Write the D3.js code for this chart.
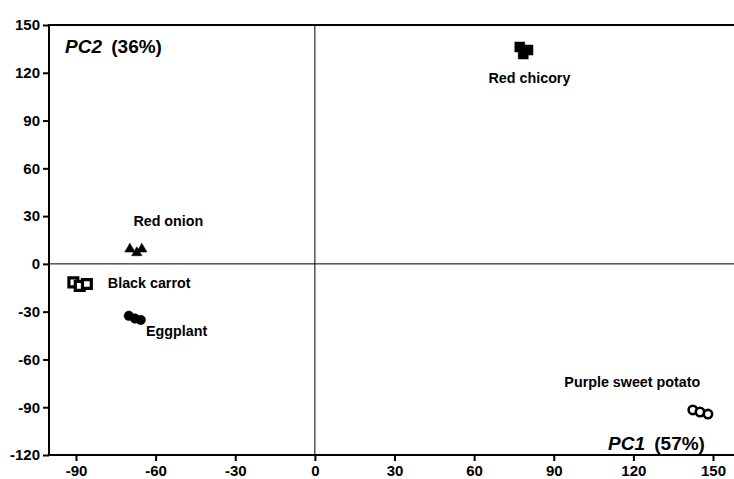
<!DOCTYPE html>
<html>
<head>
<meta charset="utf-8">
<script src="https://cdn.jsdelivr.net/npm/d3@7"></script>
<style>
  html, body { margin: 0; padding: 0; background: #fff; }
  svg { display: block; }
  text { font-family: "Liberation Sans", Arial, sans-serif; font-weight: bold; fill: #000; }
</style>
</head>
<body>
<svg id="chart" width="734" height="479"></svg>
<script>
// PCA score plot: three replicates per anthocyanin source
const xTicks = [-90, -60, -30, 0, 30, 60, 90, 120, 150];
const yTicks = [-120, -90, -60, -30, 0, 30, 60, 90, 120, 150];

const redChicoryPC1 = [77.2, 80.3, 78.5];
const redChicoryPC2 = [136.2, 134.3, 131.8];

const redOnionPC1 = [-69.7, -67.1, -65.2];
const redOnionPC2 = [9.3, 7.0, 9.3];

const blackCarrotPC1 = [-91.0, -88.6, -85.9];
const blackCarrotPC2 = [-11.6, -13.8, -12.6];

const eggplantPC1 = [-70.1, -67.8, -65.6];
const eggplantPC2 = [-32.6, -34.3, -35.2];

const sweetPotatoPC1 = [142.4, 145.1, 148.1];
const sweetPotatoPC2 = [-91.7, -93.0, -94.3];

const groups = [
  { name: "Red chicory", pc1: redChicoryPC1, pc2: redChicoryPC2, symbol: d3.symbolSquare, fill: "#000", size: 100,
    stroke: 0.5, label: [79, 113.5], dx: -36 },
  { name: "Red onion", pc1: redOnionPC1, pc2: redOnionPC2, symbol: d3.symbolTriangle, fill: "#000", size: 46,
    stroke: 0.5, label: [-68, 23.8], dx: -1 },
  { name: "Black carrot", pc1: blackCarrotPC1, pc2: blackCarrotPC2, symbol: d3.symbolSquare, fill: "#fff", size: 78,
    stroke: 3.2, label: [-78, -15], dx: 0 },
  { name: "Eggplant", pc1: eggplantPC1, pc2: eggplantPC2, symbol: d3.symbolCircle, fill: "#000", size: 72,
    stroke: 0.5, label: [-64, -45], dx: 1 },
  { name: "Purple sweet potato", pc1: sweetPotatoPC1, pc2: sweetPotatoPC2, symbol: d3.symbolCircle, fill: "#fff", size: 55,
    stroke: 2.6, label: [94, -77.5], dx: 0 }
];

const svg = d3.select("#chart");
const x = d3.scaleLinear().domain([-90, 150]).range([76, 713]);
const y = d3.scaleLinear().domain([-120, 150]).range([455, 25]);

const plotLeft = 49, plotRight = 734, plotTop = y(150), plotBottom = y(-120);

// crosshair through the origin
svg.append("line").attr("x1", x(0)).attr("x2", x(0)).attr("y1", plotTop).attr("y2", plotBottom)
  .attr("stroke", "#000").attr("stroke-width", 1);
svg.append("line").attr("x1", plotLeft).attr("x2", plotRight).attr("y1", y(0)).attr("y2", y(0))
  .attr("stroke", "#000").attr("stroke-width", 1);

// frame: left, bottom, top
svg.append("path")
  .attr("d", `M${plotRight},${plotTop}H${plotLeft}V${plotBottom}H${plotRight}`)
  .attr("fill", "none").attr("stroke", "#000").attr("stroke-width", 2);

// axes (ticks and labels only; frame drawn above)
const fmt = d => String(d);
const xAxis = svg.append("g").attr("transform", `translate(0,${plotBottom})`)
  .call(d3.axisBottom(x).tickValues(xTicks).tickSize(6).tickPadding(4).tickFormat(fmt));
const yAxis = svg.append("g").attr("transform", `translate(${plotLeft},0)`)
  .call(d3.axisLeft(y).tickValues(yTicks).tickSize(6).tickPadding(3).tickFormat(fmt));
[xAxis, yAxis].forEach(g => {
  g.select(".domain").remove();
  g.selectAll(".tick line").attr("stroke", "#000").attr("stroke-width", 2);
  g.selectAll(".tick text").attr("font-size", 15).attr("font-family", "Liberation Sans, Arial, sans-serif")
    .attr("font-weight", "bold").attr("fill", "#000");
});

// markers and group labels
groups.forEach(gr => {
  const pts = gr.pc1.map((v, i) => [v, gr.pc2[i]]);
  svg.append("g").selectAll("path").data(pts).join("path")
    .attr("transform", d => `translate(${x(d[0])},${y(d[1])})`)
    .attr("d", d3.symbol().type(gr.symbol).size(gr.size))
    .attr("fill", gr.fill)
    .attr("stroke", "#000")
    .attr("stroke-width", gr.stroke);
  svg.append("text")
    .attr("x", x(gr.label[0]) + gr.dx).attr("y", y(gr.label[1]))
    .attr("font-size", 14.3)
    .text(gr.name);
});

// component labels
const pc2 = svg.append("text").attr("x", 65).attr("y", 53).attr("font-size", 19);
pc2.append("tspan").attr("font-style", "italic").text("PC2");
pc2.append("tspan").attr("dx", 4).text(" (36%)");

const pc1 = svg.append("text").attr("x", 608).attr("y", 450).attr("font-size", 19);
pc1.append("tspan").attr("font-style", "italic").text("PC1");
pc1.append("tspan").attr("dx", 4).text(" (57%)");
</script>
</body>
</html>
